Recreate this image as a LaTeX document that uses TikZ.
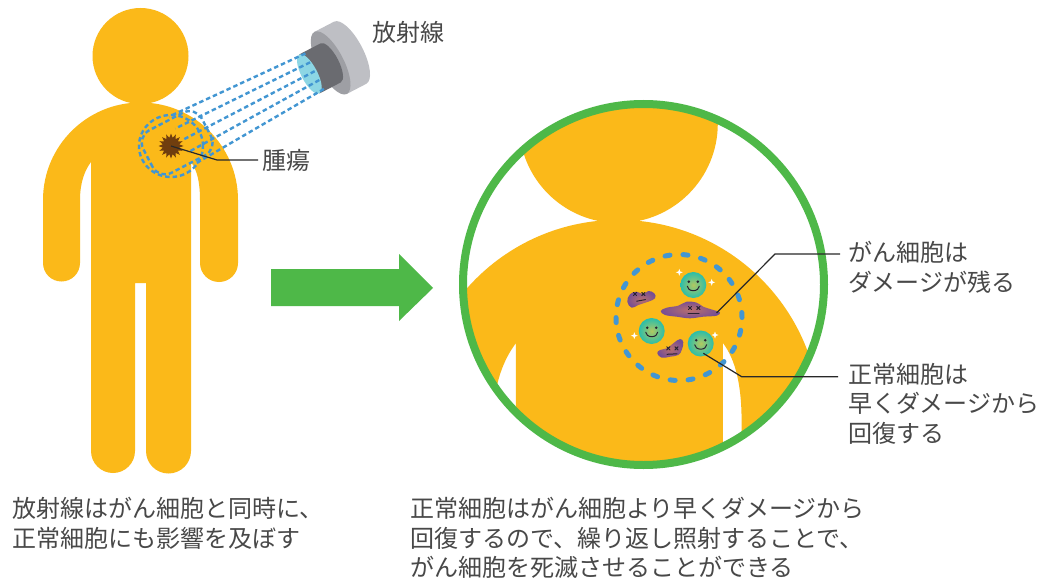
\documentclass[tikz,border=0pt]{standalone}
\usepackage{fontspec}
\newfontfamily\jpfont{Noto Sans CJK JP}
\usepackage{tikz}
\usetikzlibrary{shapes.geometric}

\definecolor{bodyyellow}{RGB}{251,185,25}
\definecolor{beamblue}{RGB}{66,150,210}
\definecolor{arrowgreen}{RGB}{78,184,72}
\definecolor{tumorbrown}{RGB}{112,62,14}
\definecolor{txtgray}{RGB}{72,72,72}
\definecolor{leadgray}{RGB}{40,40,40}
\definecolor{lenscyan}{RGB}{140,214,228}
\definecolor{devlight}{RGB}{190,191,196}
\definecolor{devmid}{RGB}{158,159,164}
\definecolor{devdark}{RGB}{106,107,112}
\definecolor{cellteal}{RGB}{42,190,170}
\definecolor{cellglow}{RGB}{178,200,96}
\definecolor{blobpurple}{RGB}{118,78,148}
\definecolor{blobglow}{RGB}{186,112,108}
\definecolor{facedark}{RGB}{40,34,50}

\tikzset{
  lbl/.style={font=\jpfont\fontsize{24}{29.5}\selectfont, text=txtgray,
    inner sep=0pt, align=left},
  leader/.style={draw=leadgray, line width=1.2pt},
  beam/.style={draw=beamblue, line width=2.4pt, dash pattern=on 4.5pt off 3pt},
  zone/.style={draw=beamblue, line width=5pt, line cap=round,
    dash pattern=on 5pt off 13pt},
  ring/.style={draw=arrowgreen, line width=8pt},
  healthy/.style={inner color=cellglow, outer color=cellteal},
  cancer/.style={inner color=blobglow, outer color=blobpurple},
  facestroke/.style={draw=facedark, line width=1pt, line cap=round},
}

% silhouette of a person, head + body, in pixel units
\newcommand{\drawperson}[1]{%
  \fill[#1] (43,-200) -- (43,-263) arc[start angle=180,end angle=360,radius=18.5]
    -- (80,-200) .. controls (80,-182) and (85,-170) .. (91,-162)
    -- (91,-451) arc[start angle=180,end angle=360,radius=22]
    -- (135,-283) -- (146,-283)
    -- (146,-451) arc[start angle=180,end angle=360,radius=22.5]
    -- (191,-162) .. controls (197,-170) and (200,-182) .. (200,-200)
    -- (200,-263) arc[start angle=180,end angle=360,radius=19]
    -- (238,-200) arc[start angle=0,end angle=180,radius=97.5] -- cycle
    (140.5,-56) circle[radius=48];
}
% smiling cell
\newcommand{\healthycell}[2]{%
  \coordinate (#1) at (#2);
  \begin{scope}[shift={(#2)}]
    \shade[healthy] (0,0) circle[radius=13];
    \fill[facedark] (-4.5,3.3) circle[radius=1.4] (4.5,3.3) circle[radius=1.4];
    \draw[facestroke] (-6,-1.2) arc[start angle=180,end angle=360,x radius=6,y radius=4.5];
  \end{scope}
}
\newcommand{\xeye}[1]{\draw[facestroke] (#1) ++(-1.6,-1.6) -- ++(3.2,3.2) ++(0,-3.2) -- ++(-3.2,3.2);}
\newcommand{\sparkle}[1]{\fill[white] (#1) ++(0,3.5) -- ++(0.9,-2.6) -- ++(2.6,-0.9)
  -- ++(-2.6,-0.9) -- ++(-0.9,-2.6) -- ++(-0.9,2.6) -- ++(-2.6,0.9) -- ++(2.6,0.9) -- cycle;}

\begin{document}
\begin{tikzpicture}[x=1pt, y=1pt]
  \fill[white] (0,0) rectangle (1042,-578);
  \useasboundingbox (0,0) rectangle (1042,-578);

  % --- left: patient under treatment ---
  \drawperson{bodyyellow}

  \begin{scope}[shift={(171,-146)}, rotate=27.5]
    % treatment head
    \fill[devlight] (180,-35) -- (202,-35) arc[start angle=-90,end angle=90,x radius=13,y radius=35] -- (180,35) -- cycle;
    \fill[devmid] (180,0) ellipse[x radius=13, y radius=35];
    \fill[devdark] (156,-22) -- (180,-22) arc[start angle=-90,end angle=90,x radius=8,y radius=22] -- (156,22) -- cycle;
    \fill[lenscyan] (156,0) ellipse[x radius=8, y radius=22];
    % rays
    \foreach \k in {-2,...,2}
      \draw[beam] (162,10*\k) -- (12,13.5*\k);
    \draw[beam, rounded corners=14pt] (-26,-24) rectangle (40,24);
  \end{scope}
  \draw[beam] (171,-146) ellipse[x radius=32, y radius=31];

  \node[star, star points=16, star point ratio=1.5, fill=tumorbrown,
        minimum size=25pt, inner sep=0pt] (tumor) at (171,-146) {};

  \node[lbl, anchor=base west] (rayslbl) at (372,-42) {放射線};
  \node[lbl, anchor=base west] (tumorlbl) at (262,-169) {腫瘍};
  \draw[leader] (tumor.center) -- (217,-160) -- ([xshift=-4pt]tumorlbl.west);

  % --- arrow ---
  \fill[arrowgreen] (271,-269) -- (399,-269) -- (399,-254) -- (433,-288)
    -- (399,-321) -- (399,-306) -- (271,-306) -- cycle;

  % --- right: close-up of the irradiated area ---
  \begin{scope}
    \clip (643.5,-284.5) circle[radius=180];
    \begin{scope}[shift={(327.6,-7.7)}, scale=2.07]
      \drawperson{bodyyellow}
    \end{scope}
  \end{scope}
  \draw[ring] (643.5,-284.5) circle[radius=180.5];

  \draw[zone] (679,-317.5) circle[radius=63];

  % cancer cells
  \shade[cancer] plot[smooth cycle, tension=0.7] coordinates {(627.3,-301.7) (630,-294.3)
    (636.7,-291.7) (643.3,-294.3) (648.3,-291) (654.3,-293.3) (655,-298.3) (648.3,-301.7)
    (638.3,-305) (631.7,-307.7)};
  \xeye{635,-294} \xeye{643.3,-294}
  \draw[facestroke] (636.7,-301.2) -- (645.5,-299.6);

  \shade[cancer] plot[smooth cycle, tension=0.6] coordinates {(660.7,-311) (666.7,-307.7)
    (678.3,-305.7) (686.7,-301.7) (696.7,-302.7) (703.3,-306.7) (713.3,-310) (720,-312.3)
    (716.7,-315.7) (703.3,-316.7) (690,-318.3) (676.7,-316.7) (665,-315)};
  \xeye{690,-308} \xeye{698.3,-308}
  \draw[facestroke] (688,-313.5) -- (699,-313.5);
  \coordinate (cancertip) at (716.5,-313);

  \shade[cancer] plot[smooth cycle, tension=0.7] coordinates {(657.3,-353.3) (660,-350)
    (666.7,-348.3) (673.3,-343.3) (680,-339) (683.3,-342.3) (681.7,-350) (678.3,-355)
    (670,-356.7) (661.7,-357.7)};
  \xeye{668.3,-348.3} \xeye{676.5,-348.3}
  \draw[facestroke] (667,-354.3) -- (677,-353.8);

  % normal cells
  \healthycell{topcell}{693.3,-285}
  \healthycell{leftcell}{651.7,-331}
  \healthycell{lowcell}{700.7,-343.5}
  \coordinate (celltip) at (703.3,-353.3);
  \sparkle{679.3,-272.3} \sparkle{711.7,-282.3}
  \sparkle{634.3,-335.7} \sparkle{715,-335}

  \node[lbl, anchor=north west] (cancerlbl) at (848,-241) {がん細胞は\\ダメージが残る};
  \node[lbl, anchor=north west] (normallbl) at (848,-363) {正常細胞は\\早くダメージから\\回復する};
  \draw[leader] (cancertip) -- (775,-254) -- ([xshift=-8pt,yshift=-13pt]cancerlbl.north west);
  \draw[leader] (celltip) -- (741.7,-376.7) -- ([xshift=-10pt,yshift=-13.7pt]normallbl.north west);

  % --- captions ---
  \node[lbl, anchor=north west] (leftnote) at (12,-497)
    {放射線はがん細胞と同時に、\\正常細胞にも影響を及ぼす};
  \node[lbl, anchor=north west] (rightnote) at (410,-497)
    {正常細胞はがん細胞より早くダメージから\\回復するので、繰り返し照射することで、\\がん細胞を死滅させることができる};
\end{tikzpicture}
\end{document}
